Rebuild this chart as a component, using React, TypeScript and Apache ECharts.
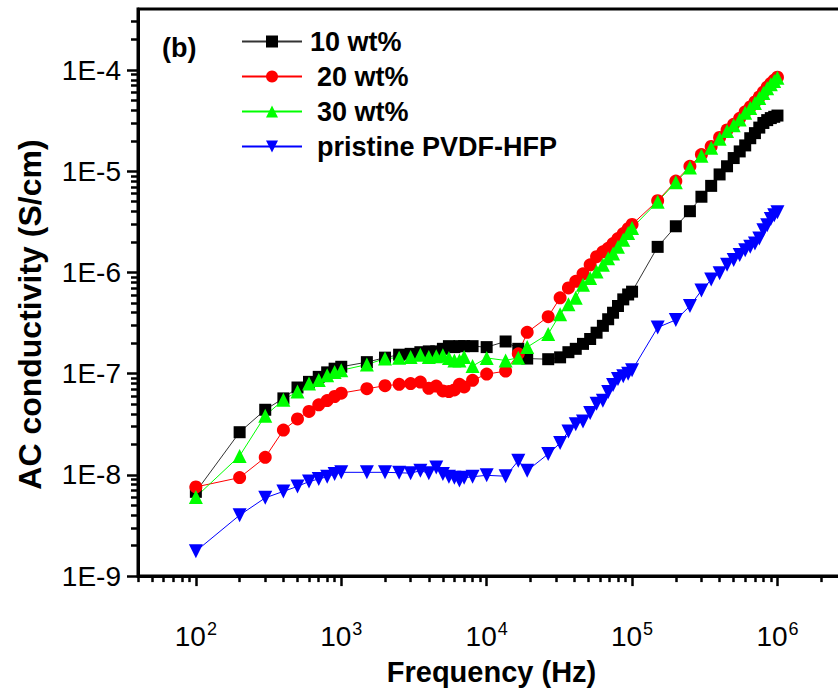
import React, { useEffect, useRef } from 'react';
import * as echarts from 'echarts';

// Frequency (Hz)
const frequencies = [
  100, 200, 300, 400, 500, 600, 700, 800, 900, 1000,
  1500, 2000, 2500, 3000, 3500, 4000, 4500, 5000, 5500, 6000, 6500, 7000, 8000, 10000,
  13500, 16500, 19000, 26500, 32000, 36500, 41000, 46000, 51500, 57000, 63000, 68500, 74000, 80000, 87000, 94000, 100000,
  150000, 200000, 250000, 300000, 350000, 400000, 450000, 500000, 550000, 600000, 650000, 700000, 750000, 800000, 850000, 900000, 950000, 1000000,
];

// AC conductivity (S/cm)
const sigma10 = [
  6.8e-9, 2.64e-8, 4.4e-8, 5.7e-8, 7.3e-8, 8.3e-8, 9.3e-8, 1.03e-7, 1.12e-7, 1.17e-7,
  1.30e-7, 1.44e-7, 1.54e-7, 1.57e-7, 1.63e-7, 1.66e-7, 1.66e-7, 1.76e-7, 1.87e-7, 1.83e-7, 1.87e-7, 1.87e-7, 1.87e-7, 1.83e-7,
  2.08e-7, 1.76e-7, 1.41e-7, 1.39e-7, 1.45e-7, 1.63e-7, 1.76e-7, 1.97e-7, 2.2e-7, 2.54e-7, 2.97e-7, 3.45e-7, 4.0e-7, 4.66e-7, 5.42e-7, 6.06e-7, 6.46e-7,
  1.79e-6, 2.86e-6, 4.03e-6, 5.6e-6, 7.17e-6, 9.3e-6, 1.12e-5, 1.35e-5, 1.57e-5, 1.8e-5, 2.12e-5, 2.38e-5, 2.7e-5, 3.0e-5, 3.2e-5, 3.35e-5, 3.45e-5, 3.55e-5,
];

const sigma20 = [
  7.6e-9, 9.4e-9, 1.49e-8, 2.77e-8, 3.57e-8, 4.24e-8, 4.93e-8, 5.43e-8, 5.95e-8, 6.42e-8,
  7.1e-8, 7.6e-8, 7.84e-8, 7.99e-8, 8.26e-8, 7.17e-8, 7.55e-8, 6.75e-8, 6.65e-8, 6.9e-8, 7.85e-8, 7.4e-8, 8.6e-8, 9.9e-8,
  1.06e-7, 1.57e-7, 2.56e-7, 3.66e-7, 5.61e-7, 7.03e-7, 8.17e-7, 9.7e-7, 1.19e-6, 1.43e-6, 1.6e-6, 1.73e-6, 1.93e-6, 2.16e-6, 2.42e-6, 2.71e-6, 2.98e-6,
  5.12e-6, 8.0e-6, 1.12e-5, 1.46e-5, 1.76e-5, 2.16e-5, 2.56e-5, 2.91e-5, 3.33e-5, 3.87e-5, 4.32e-5, 4.84e-5, 5.42e-5, 6.06e-5, 6.78e-5, 7.4e-5, 7.95e-5, 8.5e-5,
];

const sigma30 = [
  6.05e-9, 1.54e-8, 3.85e-8, 5.52e-8, 6.65e-8, 8.0e-8, 8.64e-8, 9.67e-8, 1.04e-7, 1.08e-7,
  1.23e-7, 1.41e-7, 1.44e-7, 1.46e-7, 1.54e-7, 1.46e-7, 1.49e-7, 1.52e-7, 1.43e-7, 1.35e-7, 1.35e-7, 1.46e-7, 1.19e-7, 1.43e-7,
  1.35e-7, 1.44e-7, 1.83e-7, 2.47e-7, 3.87e-7, 4.84e-7, 5.61e-7, 7.58e-7, 8.8e-7, 1.02e-6, 1.19e-6, 1.38e-6, 1.54e-6, 1.79e-6, 2.1e-6, 2.45e-6, 2.75e-6,
  5.0e-6, 7.8e-6, 1.09e-5, 1.42e-5, 1.71e-5, 2.1e-5, 2.5e-5, 2.84e-5, 3.25e-5, 3.78e-5, 4.22e-5, 4.72e-5, 5.3e-5, 5.92e-5, 6.62e-5, 7.25e-5, 7.8e-5, 8.4e-5,
];

const sigmaPristine = [
  1.76e-9, 4.0e-9, 5.93e-9, 6.87e-9, 7.69e-9, 8.6e-9, 9.1e-9, 9.6e-9, 1.02e-8, 1.06e-8,
  1.06e-8, 1.06e-8, 1.05e-8, 1.04e-8, 1.1e-8, 1.04e-8, 1.18e-8, 1.02e-8, 9.6e-9, 9.35e-9, 8.8e-9, 9.35e-9, 9.6e-9, 9.9e-9,
  9.7e-9, 1.38e-8, 1.1e-8, 1.61e-8, 2.06e-8, 2.69e-8, 3.17e-8, 3.37e-8, 4.09e-8, 5.04e-8, 5.39e-8, 6.6e-8, 7.73e-8, 8.85e-8, 9.45e-8, 1.0e-7, 1.08e-7,
  2.86e-7, 3.4e-7, 4.66e-7, 6.63e-7, 8.5e-7, 9.8e-7, 1.19e-6, 1.33e-6, 1.49e-6, 1.66e-6, 1.79e-6, 1.93e-6, 2.16e-6, 2.61e-6, 2.92e-6, 3.38e-6, 3.68e-6, 3.94e-6,
];

const seriesNames = ['10 wt%', '20 wt%', '30 wt%', 'pristine PVDF-HFP'];

// Axis ticks
const xMajorTicks = [100, 1000, 10000, 100000, 1000000];
const xMinorTicks = [
  40, 50, 60, 70, 80, 90,
  200, 300, 400, 500, 600, 700, 800, 900,
  2000, 3000, 4000, 5000, 6000, 7000, 8000, 9000,
  20000, 30000, 40000, 50000, 60000, 70000, 80000, 90000,
  200000, 300000, 400000, 500000, 600000, 700000, 800000, 900000,
  2000000, 3000000,
];
const yMajorTicks = [1e-9, 1e-8, 1e-7, 1e-6, 1e-5, 1e-4];
const yMinorTicks = [
  2e-9, 3e-9, 4e-9, 5e-9, 6e-9, 7e-9, 8e-9, 9e-9,
  2e-8, 3e-8, 4e-8, 5e-8, 6e-8, 7e-8, 8e-8, 9e-8,
  2e-7, 3e-7, 4e-7, 5e-7, 6e-7, 7e-7, 8e-7, 9e-7,
  2e-6, 3e-6, 4e-6, 5e-6, 6e-6, 7e-6, 8e-6, 9e-6,
  2e-5, 3e-5, 4e-5, 5e-5, 6e-5, 7e-5, 8e-5, 9e-5,
  2e-4, 3e-4,
];

const FONT = "'Liberation Sans', Arial, sans-serif";

// the plot frame runs past the right edge of the 838px picture
const CHART_W = 872;
const CHART_H = 691;

export default function App() {
  const ref = useRef<HTMLDivElement>(null);

  useEffect(() => {
    if (!ref.current) return;
    const chart = echarts.init(ref.current, undefined, { renderer: 'svg' });

    const pairs = (ys: number[]) => frequencies.map((f, i) => [f, ys[i]]);

    const mkSeries = (name: string, ys: number[], color: string, lineColor: string, symbol: string, size: number, rotate = 0) => ({
      name,
      type: 'line',
      data: pairs(ys),
      xAxisIndex: 0,
      yAxisIndex: 0,
      symbol,
      symbolSize: size,
      symbolRotate: rotate,
      showSymbol: true,
      clip: false,
      itemStyle: { color, borderWidth: 0 },
      lineStyle: { color: lineColor, width: 1 },
      emphasis: { disabled: true },
    });

    chart.setOption({
      animation: false,
      backgroundColor: '#fff',
      grid: {
        left: 138,
        right: CHART_W - 865,
        top: 9.1,
        bottom: CHART_H - 585,
        show: true,
        borderColor: '#000',
        borderWidth: 3,
        containLabel: false,
      },
      legend: {
        orient: 'vertical',
        left: 241,
        top: 28,
        padding: 0,
        itemWidth: 60,
        itemHeight: 15,
        itemGap: 8,
        selectedMode: false,
        data: seriesNames,
        formatter: (n: string) => (n === seriesNames[0] ? `{a|${n}}` : `{b|${n}}`),
        textStyle: {
          fontFamily: FONT,
          fontWeight: 'bold',
          fontSize: 27,
          lineHeight: 27,
          color: '#000',
          rich: {
            a: { fontFamily: FONT, fontWeight: 'bold', fontSize: 27, color: '#000', padding: [0, 0, 0, 3] },
            b: { fontFamily: FONT, fontWeight: 'bold', fontSize: 27, color: '#000', padding: [0, 0, 0, 10] },
          },
        },
      },
      graphic: [
        {
          type: 'text',
          left: 162,
          top: 34,
          style: { text: '(b)', font: `bold 27px ${FONT}`, fill: '#000' },
        },
      ],
      xAxis: [
        {
          type: 'log',
          logBase: 10,
          min: 40,
          max: 4000000,
          position: 'bottom',
          name: 'Frequency (Hz)',
          nameLocation: 'middle',
          nameGap: 41,
          nameTextStyle: {
            fontFamily: FONT,
            fontWeight: 'bold',
            fontSize: 29,
            color: '#000',
            padding: [0, 20, 0, 0],
          },
          axisLine: { show: true, onZero: false, lineStyle: { color: '#000', width: 3 } },
          axisTick: { show: true, inside: false, length: 10, lineStyle: { color: '#000', width: 2.5 }, customValues: xMajorTicks },
          minorTick: { show: false },
          splitLine: { show: false },
          axisLabel: {
            show: true,
            margin: 44,
            customValues: xMajorTicks,
            formatter: (v: number) => `{b|10}{s|${Math.round(Math.log10(v))}}`,
            rich: {
              b: { fontFamily: FONT, fontSize: 28, color: '#000', verticalAlign: 'bottom', lineHeight: 30 },
              s: { fontFamily: FONT, fontSize: 18, color: '#000', verticalAlign: 'top', lineHeight: 30, padding: [0, 0, 14, 1] },
            },
          },
        },
        {
          type: 'log',
          logBase: 10,
          min: 40,
          max: 4000000,
          position: 'bottom',
          axisLine: { show: false, onZero: false },
          axisTick: { show: true, inside: false, length: 6, lineStyle: { color: '#000', width: 2.5 }, customValues: xMinorTicks },
          axisLabel: { show: false },
          splitLine: { show: false },
        },
      ],
      yAxis: [
        {
          type: 'log',
          logBase: 10,
          min: 1e-9,
          max: 4e-4,
          position: 'left',
          name: 'AC conductivity (S/cm)',
          nameLocation: 'middle',
          nameGap: 92,
          nameRotate: 90,
          nameTextStyle: {
            fontFamily: FONT,
            fontWeight: 'bold',
            fontSize: 32,
            color: '#000',
            padding: [0, 44, 0, 0],
          },
          axisLine: { show: true, onZero: false, lineStyle: { color: '#000', width: 3 } },
          axisTick: { show: true, inside: false, length: 11, lineStyle: { color: '#000', width: 2.5 }, customValues: yMajorTicks },
          splitLine: { show: false },
          axisLabel: {
            show: true,
            margin: 17,
            customValues: yMajorTicks,
            fontFamily: FONT,
            fontSize: 28,
            color: '#000',
            formatter: (v: number) => `1E${Math.round(Math.log10(v))}`,
          },
        },
        {
          type: 'log',
          logBase: 10,
          min: 1e-9,
          max: 4e-4,
          position: 'left',
          axisLine: { show: false, onZero: false },
          axisTick: { show: true, inside: false, length: 7, lineStyle: { color: '#000', width: 2.5 }, customValues: yMinorTicks },
          axisLabel: { show: false },
          splitLine: { show: false },
        },
      ],
      series: [
        mkSeries(seriesNames[0], sigma10, '#000000', '#333333', 'rect', 12),
        mkSeries(seriesNames[1], sigma20, '#ff0000', '#ff0000', 'circle', 13),
        mkSeries(seriesNames[2], sigma30, '#00ff00', '#00ff00', 'triangle', 14),
        mkSeries(seriesNames[3], sigmaPristine, '#0000ff', '#0000ff', 'triangle', 14, 180),
      ],
    });

    return () => chart.dispose();
  }, []);

  return (
    <div style={{ position: 'fixed', left: 0, top: 0, width: 838, height: 691, overflow: 'hidden', background: '#fff' }}>
      <div ref={ref} style={{ width: CHART_W, height: CHART_H }} />
    </div>
  );
}
